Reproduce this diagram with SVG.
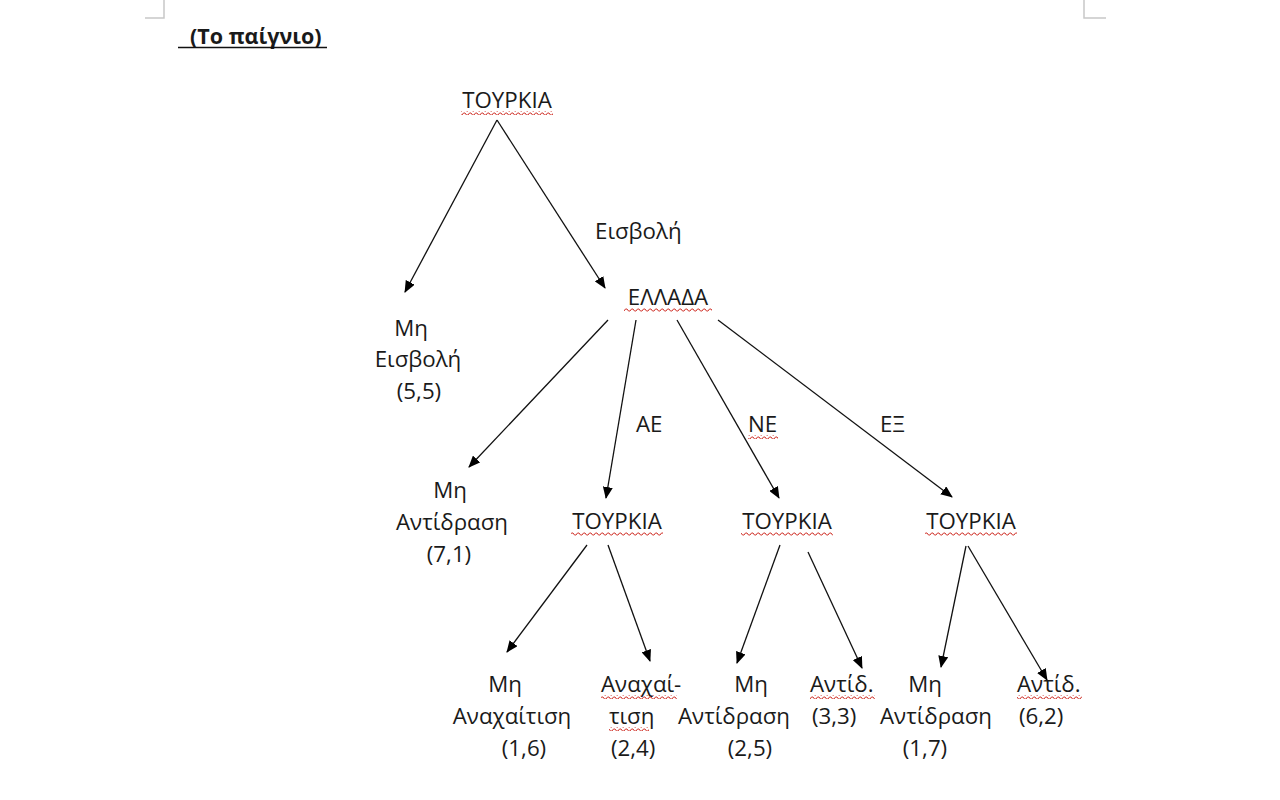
<svg xmlns="http://www.w3.org/2000/svg" width="1280" height="800" viewBox="0 0 1280 800">
<style>
text{font-family:"Open Sans","Noto Sans",sans-serif;font-size:22.3px;fill:#1a1a1a}
.c{text-anchor:middle}
.e{stroke:#111;stroke-width:1.3;fill:none;marker-end:url(#ah)}
.mark{stroke:#c8c8c8;stroke-width:1.5;fill:none}
</style>
<defs>
<marker id="ah" viewBox="0 0 12 10" refX="11" refY="5" markerWidth="12" markerHeight="10" markerUnits="userSpaceOnUse" orient="auto">
<path d="M0,0 L12,5 L0,10 Z" fill="#000"/>
</marker>
<pattern id="wv" width="6" height="4" patternUnits="userSpaceOnUse">
<path d="M0,3 L1.5,1 L3,1 L4.5,3 L6,3" stroke="#d0342c" stroke-width="1" fill="none"/>
</pattern>
</defs>
<rect width="1280" height="800" fill="#fff"/>
<path class="mark" d="M164,0 V18 H145"/>
<path class="mark" d="M1084,0 V18 H1106"/>
<g id="title">
<text x="190" y="44" style="font-weight:bold;font-size:21.5px">(Το παίγνιο)</text>
<line x1="178" y1="47.5" x2="327" y2="47.5" stroke="#111" stroke-width="1.5"/>
</g>
<g id="edges">
<line class="e" x1="497" y1="120" x2="405" y2="292"/>
<line class="e" x1="497" y1="120" x2="605" y2="288"/>
<line class="e" x1="608" y1="320" x2="469" y2="467"/>
<line class="e" x1="636" y1="320" x2="606" y2="498"/>
<line class="e" x1="677" y1="320" x2="779" y2="498"/>
<line class="e" x1="718" y1="320" x2="952" y2="497"/>
<line class="e" x1="587" y1="545" x2="507" y2="652"/>
<line class="e" x1="608" y1="545" x2="650" y2="661"/>
<line class="e" x1="780" y1="545" x2="737" y2="663"/>
<line class="e" x1="808" y1="552" x2="862" y2="668"/>
<line class="e" x1="966" y1="546" x2="941" y2="667"/>
<line class="e" x1="968" y1="546" x2="1047" y2="680"/>
<text x="595" y="239">Εισβολή</text>
<text x="636" y="432">ΑΕ</text>
<text x="748" y="432">ΝΕ</text>
<rect x="748" y="435" width="30" height="4" fill="url(#wv)"/>
<text x="880" y="432">ΕΞ</text>
</g>
<g id="n-root">
<text class="c" x="507" y="108">ΤΟΥΡΚΙΑ</text>
<rect x="461" y="111" width="92" height="4" fill="url(#wv)"/>
</g>
<g id="n-greece">
<text class="c" x="668" y="305">ΕΛΛΑΔΑ</text>
<rect x="624" y="308" width="88" height="4" fill="url(#wv)"/>
</g>
<g id="n-noinv">
<text class="c" x="411" y="336">Μη</text>
<text class="c" x="418" y="367">Εισβολή</text>
<text class="c" x="419" y="399">(5,5)</text>
</g>
<g id="n-noreact">
<text class="c" x="450" y="498">Μη</text>
<text class="c" x="452" y="530">Αντίδραση</text>
<text class="c" x="449" y="562">(7,1)</text>
</g>
<g id="n-t1">
<text class="c" x="617" y="529">ΤΟΥΡΚΙΑ</text>
<rect x="571" y="532" width="92" height="4" fill="url(#wv)"/>
</g>
<g id="n-t2">
<text class="c" x="787" y="529">ΤΟΥΡΚΙΑ</text>
<rect x="741" y="532" width="92" height="4" fill="url(#wv)"/>
</g>
<g id="n-t3">
<text class="c" x="971" y="529">ΤΟΥΡΚΙΑ</text>
<rect x="925" y="532" width="92" height="4" fill="url(#wv)"/>
</g>
<g id="l1">
<text class="c" x="505" y="692">Μη</text>
<text class="c" x="512" y="724">Αναχαίτιση</text>
<text class="c" x="524" y="756">(1,6)</text>
</g>
<g id="l2">
<text x="601" y="692">Αναχαί-</text>
<rect x="601" y="695" width="76" height="4" fill="url(#wv)"/>
<text x="609" y="724">τιση</text>
<rect x="609" y="727" width="40" height="4" fill="url(#wv)"/>
<text x="611" y="756">(2,4)</text>
</g>
<g id="l3">
<text class="c" x="751" y="692">Μη</text>
<text class="c" x="734" y="724">Αντίδραση</text>
<text class="c" x="750" y="756">(2,5)</text>
</g>
<g id="l4">
<text x="810" y="692">Αντίδ.</text>
<rect x="810" y="695" width="65" height="4" fill="url(#wv)"/>
<text x="812" y="724">(3,3)</text>
</g>
<g id="l5">
<text class="c" x="925" y="692">Μη</text>
<text class="c" x="936" y="724">Αντίδραση</text>
<text class="c" x="925" y="756">(1,7)</text>
</g>
<g id="l6">
<text x="1017" y="692">Αντίδ.</text>
<rect x="1017" y="695" width="65" height="4" fill="url(#wv)"/>
<text x="1019" y="724">(6,2)</text>
</g>
</svg>
